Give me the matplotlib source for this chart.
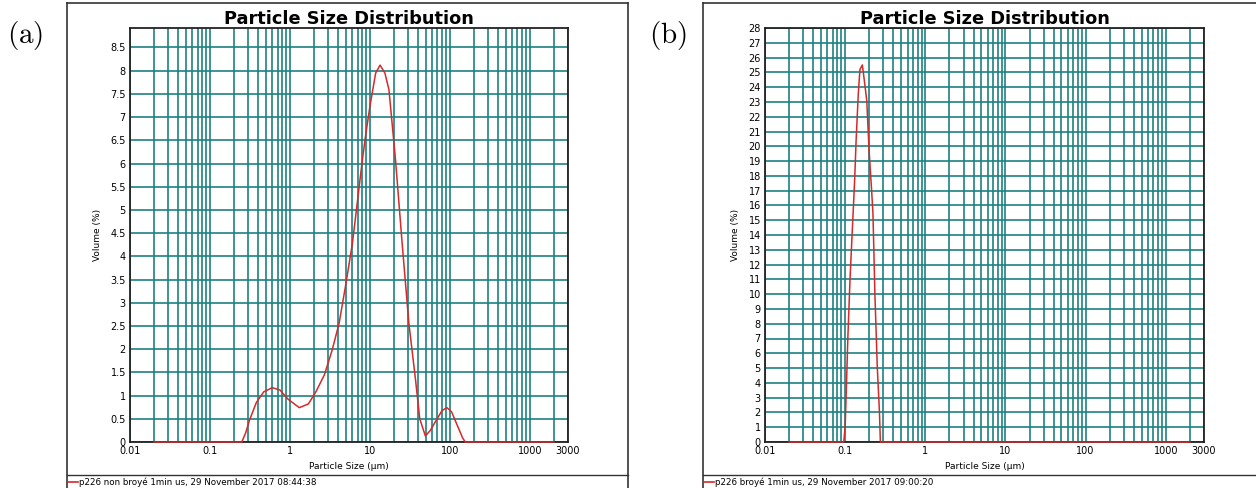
import matplotlib
matplotlib.use('Agg')
import matplotlib.pyplot as plt
import matplotlib.ticker as ticker
from matplotlib.lines import Line2D
import numpy as np

#------------------------------------------------------------------------------
# DATA

# (a) p226 non broye
size_a = [0.02, 0.25, 0.28, 0.312, 0.38, 0.47, 0.6, 0.75, 0.95, 1.31, 1.7, 2.11,
          2.7, 3.37, 4.12, 5.0, 6.04, 7.0, 8.05, 9.0, 10.0, 11.8, 13.4, 15.4,
          17.3, 20.9, 25.3, 30.7, 37.2, 42.0, 49.4, 57.0, 66.0, 80.0, 92.0,
          105.0, 123.0, 145.0, 156.0, 2000.0]
vol_a = [0, 0, 0.2, 0.47, 0.85, 1.08, 1.17, 1.12, 0.92, 0.74, 0.82, 1.08,
         1.45, 1.98, 2.56, 3.4, 4.28, 5.2, 6.08, 6.7, 7.23, 7.95, 8.12, 7.95,
         7.59, 6.08, 4.28, 2.56, 1.34, 0.5, 0.13, 0.25, 0.44, 0.68, 0.74,
         0.65, 0.37, 0.08, 0, 0]

# (b) p226 broye
size_b = [0.02, 0.096, 0.100, 0.104, 0.108, 0.115, 0.122, 0.127, 0.132, 0.137,
          0.146, 0.153, 0.164, 0.173, 0.186, 0.199, 0.214, 0.222, 0.228, 0.235,
          0.252, 0.268, 0.275, 2000.0]
vol_b = [0, 0, 1, 4, 7, 11, 14, 16, 18, 20.4,
         23.6, 25.2, 25.5, 24.5, 23.1, 19.7, 17, 15.5, 13, 10,
         5, 2, 0, 0]

xticks = [0.01, 0.1, 1, 10, 100, 1000, 3000]
xticklabels = ['0.01', '0.1', '1', '10', '100', '1000', '3000']

legend_a = 'p226 non broyé 1min us, 29 November 2017 08:44:38'
legend_b = 'p226 broyé 1min us, 29 November 2017 09:00:20'

#------------------------------------------------------------------------------
W, H = 1256, 488
fig = plt.figure(figsize=(W/100, H/100), dpi=100)
fig.patch.set_facecolor('white')

grid_col = '#1c8282'
red = '#d42a2a'

def px_rect(x0, y0, x1, y1):
    # pixel box (top-left origin) -> figure fraction
    return [x0/W, 1 - y1/H, (x1 - x0)/W, (y1 - y0)/H]

def hline(x0, x1, y, **kw):
    fig.add_artist(Line2D([x0/W, x1/W], [1 - y/H, 1 - y/H], transform=fig.transFigure, **kw))

def vline(x, y0, y1, **kw):
    fig.add_artist(Line2D([x/W, x/W], [1 - y0/H, 1 - y1/H], transform=fig.transFigure, **kw))

def make_panel(box, frame, x, y, ymax, ystep, yfmt, legend, tag, tagx):
    ax = fig.add_axes(px_rect(*box))
    # red line drawn over the bottom spine like the original export
    ax.plot(x, y, color=red, lw=1.1, zorder=5, clip_on=False)
    ax.set_xscale('log')
    ax.set_xlim(0.01, 3000)
    ax.set_ylim(0, ymax)

    ax.set_xticks(xticks)
    ax.set_xticklabels(xticklabels)
    ax.xaxis.set_minor_locator(ticker.LogLocator(base=10, subs=np.arange(2, 10)))
    ax.xaxis.set_minor_formatter(ticker.NullFormatter())
    ax.yaxis.set_major_locator(ticker.MultipleLocator(ystep))
    ax.yaxis.set_major_formatter(ticker.FuncFormatter(yfmt))

    ax.grid(True, which='both', axis='x', color=grid_col, lw=1.2)
    ax.grid(True, which='major', axis='y', color=grid_col, lw=1.2)
    ax.set_axisbelow(True)

    ax.tick_params(which='both', length=0, labelsize=7, pad=3)
    # the "0" label sits a little above the axis
    ax.yaxis.get_major_ticks()[0].label1.set_verticalalignment('bottom')
    for s in ax.spines.values():
        s.set_color('#222222')
        s.set_linewidth(1.3)

    ax.set_title('Particle Size Distribution', fontsize=12.8, fontweight='bold', pad=3)
    ax.set_xlabel('Particle Size (µm)', fontsize=6.5, labelpad=4)
    ax.set_ylabel('Volume (%)', fontsize=6.5, labelpad=6)

    # outer frame of the exported graph
    fx0, fx1 = frame
    hline(fx0, fx1, 3, color='#333333', lw=1.2)
    hline(fx0, fx1, 475, color='#333333', lw=1.0)
    vline(fx0, 3, H, color='#333333', lw=1.2)
    vline(fx1, 3, H, color='#333333', lw=1.2)

    # legend row
    hline(fx0 + 1, fx0 + 11, 482, color=red, lw=1.2)
    fig.text((fx0 + 12)/W, 1 - 482/H, legend, fontsize=6.3, va='center', ha='left')

    fig.text(tagx/W, 1 - 36/H, tag, fontsize=21, math_fontfamily='cm', ha='center', va='center')
    return ax

fmt_a = lambda v, p: ('%g' % v)
fmt_b = lambda v, p: ('%d' % v)

make_panel((130, 28, 568, 442), (67, 628), size_a, vol_a, 8.92, 0.5, fmt_a,
           legend_a, r'$\mathrm{(a)}$', 25)
make_panel((765, 28, 1204, 442), (703, 1262), size_b, vol_b, 28, 1, fmt_b,
           legend_b, r'$\mathrm{(b)}$', 668)

fig.savefig('out.png', dpi=100)
